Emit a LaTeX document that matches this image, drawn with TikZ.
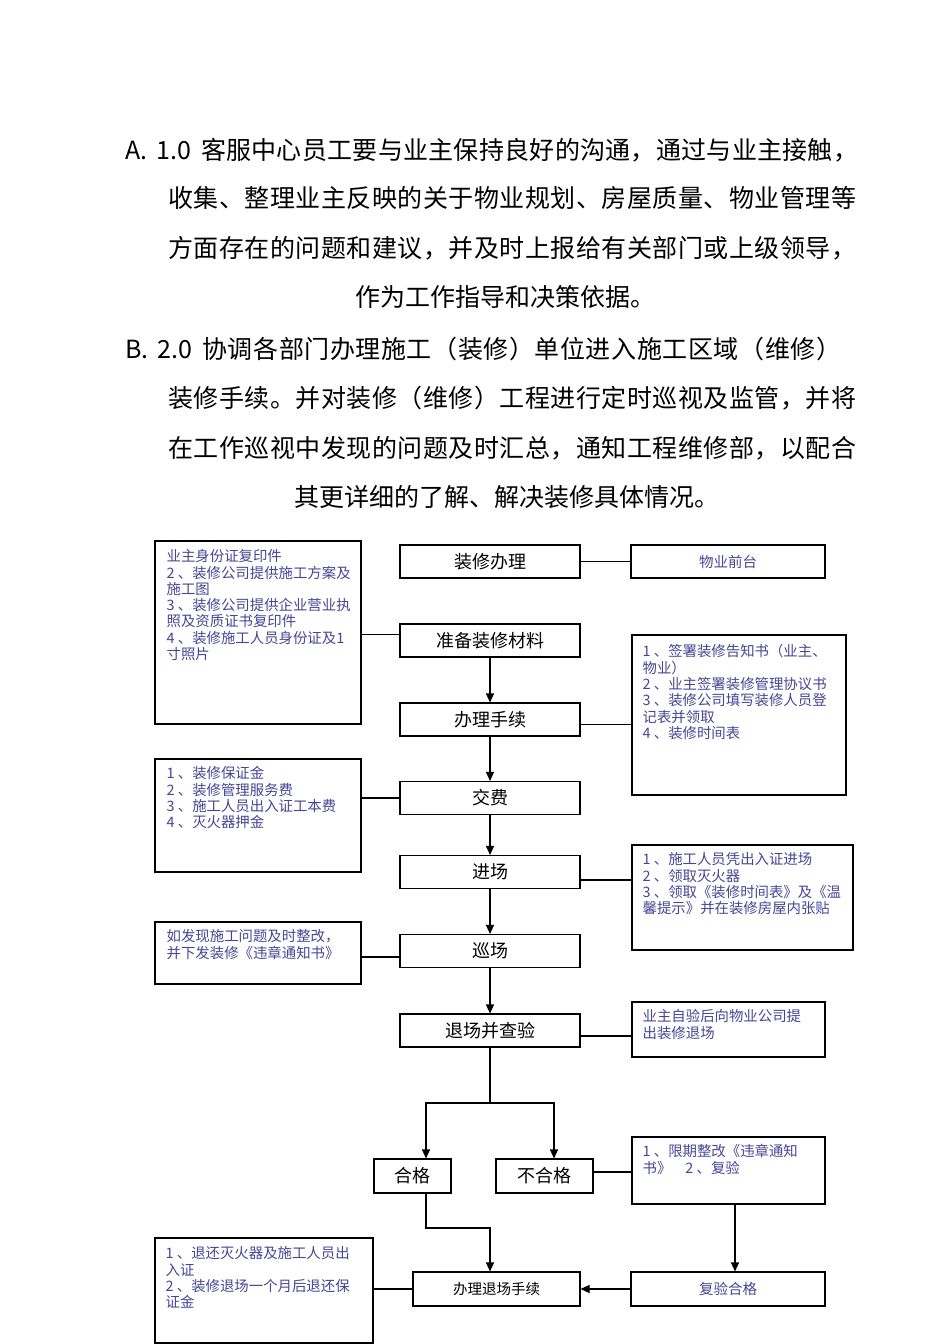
\documentclass[tikz,border=0pt]{standalone}
\usepackage{fontspec}
\setmainfont{Noto Sans CJK SC}
\usetikzlibrary{arrows.meta}
\definecolor{infoblue}{RGB}{70,70,150}
\makeatletter
\newcommand\spreadline[3]{\makebox[#1][s]{#2\@tfor\sptk:=#3\do{\sptk\hfill}\unskip}}
\makeatother
\tikzset{
 stepbox/.style={draw=black, line width=1.1pt, inner sep=0pt, minimum height=33pt, font=\fontsize{18pt}{20pt}\selectfont},
 smallstep/.style={draw=black, line width=1.1pt, inner sep=0pt, minimum height=34pt, font=\fontsize{14.5pt}{17pt}\selectfont},
 infobox/.style={draw=black, line width=1.1pt, inner sep=0pt},
 infotext/.style={anchor=north west, inner sep=0pt, align=left, text=infoblue, font=\fontsize{14.4pt}{16.3pt}\selectfont},
 head/.style={anchor=base west, inner sep=0pt, font=\fontsize{25pt}{30pt}\selectfont},
 headc/.style={anchor=base, inner sep=0pt, font=\fontsize{25pt}{30pt}\selectfont},
 link/.style={line width=1.1pt},
 arr/.style={line width=1.1pt, -{Triangle[length=9pt,width=8pt]}}
}
\begin{document}
\begin{tikzpicture}[x=1pt,y=-1pt]
\fill[white] (0,0) rectangle (950,1344);
\path[use as bounding box] (0,0) rectangle (950,1344);

% header text
\node[head] (hA1) at (125,159.5) {\spreadline{733pt}{A.\hspace{9pt}1.0\hspace{10pt}}{客服中心员工要与业主保持良好的沟通，通过与业主接触，}};
\node[head] (hA2) at (168,207.5) {\spreadline{688pt}{}{收集、整理业主反映的关于物业规划、房屋质量、物业管理等}};
\node[head] (hA3) at (168,257.5) {\spreadline{688pt}{}{方面存在的问题和建议，并及时上报给有关部门或上级领导，}};
\node[headc] (hA4) at (505,306.5) {作为工作指导和决策依据。};
\node[head] (hB1) at (125,358.5) {\spreadline{716pt}{B.\hspace{9pt}2.0\hspace{10pt}}{协调各部门办理施工（装修）单位进入施工区域（维修）}};
\node[head] (hB2) at (168,407.5) {\spreadline{688pt}{}{装修手续。并对装修（维修）工程进行定时巡视及监管，并将}};
\node[head] (hB3) at (168,457.5) {\spreadline{688pt}{}{在工作巡视中发现的问题及时汇总，通知工程维修部，以配合}};
\node[headc] (hB4) at (507,506.5) {其更详细的了解、解决装修具体情况。};

% main column
\node[stepbox, minimum width=180pt] (n1) at (490,561.5) {装修办理};
\node[stepbox, minimum width=180pt] (n2) at (490,640.5) {准备装修材料};
\node[stepbox, minimum width=180pt] (n3) at (490,719.5) {办理手续};
\node[stepbox, minimum width=180pt] (n4) at (490,798) {交费};
\node[stepbox, minimum width=180pt] (n5) at (490,872) {进场};
\node[stepbox, minimum width=180pt] (n6) at (490,951) {巡场};
\node[stepbox, minimum width=180pt] (n7) at (490,1030.5) {退场并查验};
\node[stepbox, minimum width=77pt, minimum height=34pt] (hg) at (412.5,1176) {合格};
\node[stepbox, minimum width=97pt, minimum height=34pt] (bhg) at (544.5,1176) {不合格};
\node[smallstep, minimum width=167pt] (tc) at (496.5,1289) {办理退场手续};
\node[smallstep, minimum width=194pt, text=infoblue] (fy) at (728,1289) {复验合格};
\node[smallstep, minimum width=194pt, minimum height=33pt, text=infoblue] (wy) at (728,561.5) {物业前台};

% info boxes
\node[infobox, minimum width=206pt, minimum height=183pt] (b1) at (258,632.5) {};
\node[infotext] (t1) at ([xshift=12pt,yshift=-9pt]b1.north west) {业主身份证复印件\\2 、装修公司提供施工方案及\\施工图\\3 、装修公司提供企业营业执\\照及资质证书复印件\\4 、装修施工人员身份证及1\\寸照片};
\node[infobox, minimum width=214pt, minimum height=160pt] (b2) at (739,715) {};
\node[infotext] (t2) at ([xshift=11pt,yshift=-10pt]b2.north west) {1 、签署装修告知书（业主、\\物业）\\2 、业主签署装修管理协议书\\3 、装修公司填写装修人员登\\记表并领取\\4 、装修时间表};
\node[infobox, minimum width=206pt, minimum height=113pt] (b3) at (258,815.5) {};
\node[infotext] (t3) at ([xshift=12pt,yshift=-8pt]b3.north west) {1 、装修保证金\\2 、装修管理服务费\\3 、施工人员出入证工本费\\4 、灭火器押金};
\node[infobox, minimum width=221pt, minimum height=105pt] (b4) at (742.5,897.5) {};
\node[infotext] (t4) at ([xshift=11pt,yshift=-8pt]b4.north west) {1 、施工人员凭出入证进场\\2 、领取灭火器\\3 、领取《装修时间表》及《温\\馨提示》并在装修房屋内张贴};
\node[infobox, minimum width=206pt, minimum height=62pt] (b5) at (258,953) {};
\node[infotext] (t5) at ([xshift=12pt,yshift=-8pt]b5.north west) {如发现施工问题及时整改，\\并下发装修《违章通知书》};
\node[infobox, minimum width=193pt, minimum height=55pt] (b6) at (728.5,1029.5) {};
\node[infotext] (t6) at ([xshift=11pt,yshift=-8pt]b6.north west) {业主自验后向物业公司提\\出装修退场};
\node[infobox, minimum width=193pt, minimum height=67pt] (b7) at (728.5,1170.5) {};
\node[infotext] (t7) at ([xshift=11pt,yshift=-8pt]b7.north west) {1 、限期整改《违章通知\\书》\hspace{14pt}2 、复验};
\node[infobox, minimum width=218pt, minimum height=105pt] (b8) at (264,1290.5) {};
\node[infotext] (t8) at ([xshift=11pt,yshift=-9pt]b8.north west) {1 、退还灭火器及施工人员出\\入证\\2 、装修退场一个月后退还保\\证金};

% connectors
\draw[link] (n1.east) -- (wy.west);
\draw[link] ([yshift=6pt]n2.west) -- ([yshift=6pt]n2.west -| b1.east);
\draw[link] ([yshift=-5pt]n3.east) -- ([yshift=-5pt]n3.east -| b2.west);
\draw[link] (n4.west) -- (n4.west -| b3.east);
\draw[link] ([yshift=-8pt]n5.east) -- ([yshift=-8pt]n5.east -| b4.west);
\draw[link] ([yshift=-6pt]n6.west) -- ([yshift=-6pt]n6.west -| b5.east);
\draw[link] ([yshift=-5.5pt]n7.east) -- ([yshift=-5.5pt]n7.east -| b6.west);
\draw[link] ([yshift=4pt]bhg.east) -- ([yshift=4pt]bhg.east -| b7.west);
\draw[link] (tc.west) -- (tc.west -| b8.east);

\draw[arr] (n2.south) -- (n3.north);
\draw[arr] (n3.south) -- (n4.north);
\draw[arr] (n4.south) -- (n5.north);
\draw[arr] (n5.south) -- (n6.north);
\draw[arr] (n6.south) -- (n7.north);

\coordinate (br) at (490,1103);
\draw[link] (n7.south) -- (br);
\draw[arr] (br) -| ([xshift=13.5pt]hg.north);
\draw[arr] (br) -| ([xshift=9.5pt]bhg.north);
\coordinate (jn) at (426,1228);
\draw[arr] ([xshift=13.5pt]hg.south) -- (jn) -| ([xshift=-6.5pt]tc.north);
\draw[arr] ([xshift=6.5pt]b7.south) -- ([xshift=7pt]fy.north);
\draw[arr] (fy.west) -- (tc.east);
\end{tikzpicture}
\end{document}
